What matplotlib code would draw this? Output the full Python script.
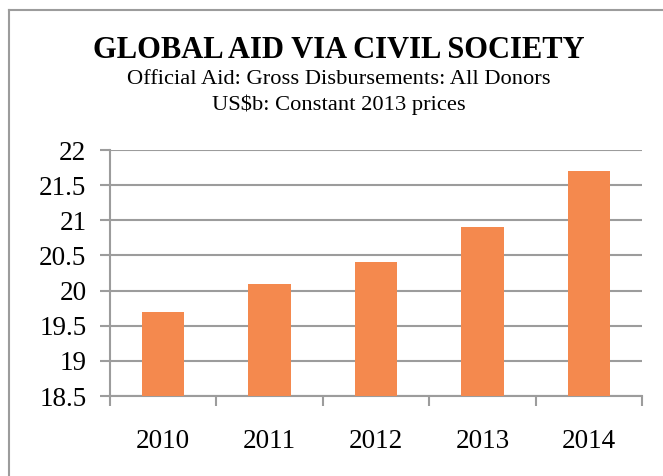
import matplotlib.pyplot as plt
from matplotlib.lines import Line2D

years = ['2010', '2011', '2012', '2013', '2014']
values = [19.7, 20.1, 20.4, 20.9, 21.7]
y_ticks = [18.5, 19, 19.5, 20, 20.5, 21, 21.5, 22]

plt.rcParams['font.family'] = ['Liberation Serif', 'DejaVu Serif']

W, H = 663, 476
fig = plt.figure(figsize=(W / 100, H / 100), dpi=100)

# plot area in pixels: x 110..642, y 150..396
ax = fig.add_axes([110 / W, 1 - 396 / H, (642 - 110) / W, (396 - 150) / H])

x = list(range(len(years)))
ax.bar(x, [v - 18.5 for v in values], bottom=18.5, width=0.4, color='#F4894E', zorder=3)

ax.set_xlim(-0.5, len(years) - 0.5)
ax.set_ylim(18.5, 22)
ax.set_yticks(y_ticks)
ax.set_yticklabels([f'{t:g}' for t in y_ticks], fontsize=19.5)
ax.yaxis.grid(True, color='#9c9c9c', linewidth=1.5, zorder=0)

ax.set_xticks([i - 0.5 for i in range(len(years) + 1)])
ax.set_xticklabels([])
ax.set_xticks(x, minor=True)
ax.set_xticklabels(years, minor=True, fontsize=19.5)
ax.tick_params(axis='x', which='minor', length=0, pad=24)
ax.tick_params(axis='x', which='major', length=7, width=1.5, color='#9c9c9c', direction='out')
ax.tick_params(axis='y', length=7, width=1.5, color='#9c9c9c', direction='out', pad=10)

for side in ['top', 'right']:
    ax.spines[side].set_visible(False)
for side in ['left', 'bottom']:
    ax.spines[side].set_color('#9c9c9c')
    ax.spines[side].set_linewidth(1.5)

cx = 339 / W
fig.text(cx, 1 - 50 / H, 'GLOBAL AID VIA CIVIL SOCIETY', ha='center', va='center',
         fontsize=22, fontweight='bold')
fig.text(cx, 1 - 79 / H, 'Official Aid: Gross Disbursements: All Donors', ha='center',
         va='center', fontsize=16.2)
fig.text(cx, 1 - 105 / H, 'US$b: Constant 2013 prices', ha='center', va='center', fontsize=16.2)

# outer chart border
fig.add_artist(Line2D([9 / W, 9 / W], [0, 1 - 10 / H], transform=fig.transFigure,
                      color='#9c9c9c', linewidth=1.5))
fig.add_artist(Line2D([9 / W, 1], [1 - 10 / H, 1 - 10 / H], transform=fig.transFigure,
                      color='#9c9c9c', linewidth=1.5))

fig.savefig('out.png', dpi=100)
